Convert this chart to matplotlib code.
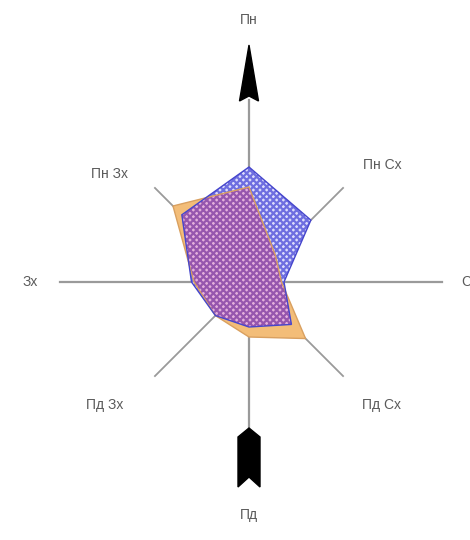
import numpy as np
import matplotlib
matplotlib.use("Agg")
import matplotlib.pyplot as plt
from matplotlib.patches import Polygon

# напрямки та повторюваність вітру
directions = ["Пн", "Пн Сх", "Сх", "Пд Сх", "Пд", "Пд Зх", "Зх", "Пн Зх"]
orange_vals = [19, 7.5, 6.5, 16, 11, 9.5, 11, 21.5]
blue_vals = [23, 17.5, 7, 12, 9, 9.5, 11.5, 19]

angles = np.deg2rad(np.arange(0, 360, 45))


def to_xy(vals):
    v = np.array(vals, dtype=float)
    return np.column_stack([v * np.sin(angles), v * np.cos(angles)])


fig = plt.figure(figsize=(4.7, 5.4), dpi=100)
ax = fig.add_axes([0, 0, 1, 1])
ax.set_xlim(-49.8, 44.2)
ax.set_ylim(-51.6, 56.4)
ax.set_aspect("equal")
ax.axis("off")

axis_col = "#9a9a9a"
# осі
ax.plot([-37.8, 38.6], [0, 0], color=axis_col, lw=1.6, zorder=1)
ax.plot([0, 0], [-29.2, 36.4], color=axis_col, lw=1.6, zorder=1)
d = 26.6 / np.sqrt(2)
ax.plot([-d, d], [-d, d], color=axis_col, lw=1.3, zorder=1)
ax.plot([-d, d], [d, -d], color=axis_col, lw=1.3, zorder=1)

# стрілка на півночі
ax.add_patch(Polygon([[0, 47.4], [-1.9, 36.2], [0, 37.2], [1.9, 36.2]],
                     closed=True, color="black", zorder=5))
# хвіст на півдні
ax.add_patch(Polygon([[0, -29.2], [2.2, -31.0], [2.2, -41.0], [0, -39.0],
                      [-2.2, -41.0], [-2.2, -31.0]],
                     closed=True, color="black", zorder=5))

orange_xy = to_xy(orange_vals)
blue_xy = to_xy(blue_vals)

plt.rcParams["hatch.linewidth"] = 1.6

ax.add_patch(Polygon(orange_xy, closed=True, facecolor="#f3bd78",
                     edgecolor="none", zorder=2))
blue_patch = Polygon(blue_xy, closed=True, facecolor="#dcdcfc",
                     edgecolor="#6e6ee0", hatch="xxxxx", lw=0, zorder=3)
ax.add_patch(blue_patch)
# перетин
overlap = Polygon(orange_xy, closed=True, facecolor="#e4b0dc",
                  edgecolor="#9656ae", hatch="xxxxx", lw=0, zorder=4)
ax.add_patch(overlap)
overlap.set_clip_path(blue_patch)

ax.add_patch(Polygon(orange_xy, closed=True, facecolor="none",
                     edgecolor="#d9a060", lw=1.0, zorder=6))
ax.add_patch(Polygon(blue_xy, closed=True, facecolor="none",
                     edgecolor="#4646cc", lw=1.0, zorder=6))

label_pos = [(0, 52.4), (26.6, 23.4), (42.4, 0), (26.6, -24.6),
             (0, -46.6), (-28.8, -24.6), (-43.8, 0), (-27.8, 21.6)]
for name, (x, y) in zip(directions, label_pos):
    ha = "left" if name == "Сх" else "center"
    ax.text(x, y, name, ha=ha, va="center", fontsize=10, color="#5a5a5a",
            family="Liberation Sans", zorder=7)

fig.savefig("out.png", dpi=100)
